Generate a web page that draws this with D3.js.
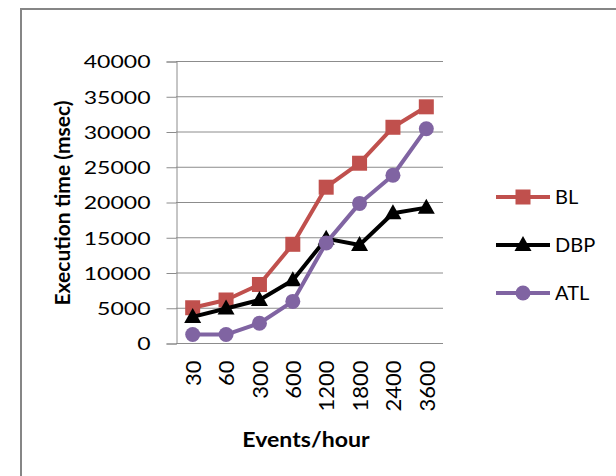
<!DOCTYPE html>
<html>
<head>
<meta charset="utf-8">
<script src="https://cdn.jsdelivr.net/npm/d3@7"></script>
<style>
html,body{margin:0;padding:0;background:#fff;}
svg{display:block;}
text{font-family:Lato,"Open Sans",sans-serif;fill:#000;}
</style>
</head>
<body>
<svg id="chart" width="616" height="476"></svg>
<script>
const categories = ["30","60","300","600","1200","1800","2400","3600"];
const BL  = [5000, 6100, 8300, 14000, 22100, 25500, 30600, 33500];
const DBP = [3700, 4900, 6100, 8900, 14800, 13900, 18400, 19200];
const ATL = [1200, 1200, 2800, 5900, 14200, 19800, 23800, 30400];
const yTicks = [0,5000,10000,15000,20000,25000,30000,35000,40000];
const seriesNames = ["BL","DBP","ATL"];
const seriesValues = [BL, DBP, ATL];
const seriesColors = ["#C0504D","#000000","#8064A2"];
const seriesMarkers = ["square","triangle","circle"];

const svg = d3.select("#chart");
// outer chart border
svg.append("path").attr("d","M21,476 L21,9 L616,9")
  .attr("fill","none").attr("stroke","#868686").attr("stroke-width",2);

const x = d3.scalePoint().domain(categories).range([176,443]).padding(0.5);
const y = d3.scaleLinear().domain([0,40000]).range([343,61]);

// gridlines
svg.append("g").selectAll("line").data(yTicks.filter(d=>d>0)).join("line")
  .attr("x1",176).attr("x2",443).attr("y1",d=>y(d)+0.5).attr("y2",d=>y(d)+0.5)
  .attr("stroke","#8c8c8c").attr("stroke-width",1);

// y axis
const yAxis = svg.append("g").attr("transform","translate(176.5,0.5)")
  .call(d3.axisLeft(y).tickValues(yTicks).tickSize(10).tickPadding(14).tickFormat(d3.format("d")));
yAxis.select(".domain").attr("stroke","#8c8c8c");
yAxis.selectAll(".tick line").attr("stroke","#8c8c8c");
yAxis.selectAll(".tick text").attr("font-size",18).attr("font-family","Lato")
  .attr("fill","#000").attr("x",0).attr("dy","0.35em")
  .attr("transform","translate(-26,0) scale(1.28,1)");

// x axis
const xAxis = svg.append("g").attr("transform","translate(0,343.5)")
  .call(d3.axisBottom(x).tickSize(0).tickSizeOuter(0));
xAxis.select(".domain").attr("stroke","#8c8c8c").attr("d","M176,0H443");
xAxis.selectAll(".tick text").attr("font-size",22).attr("font-family","Lato")
  .attr("fill","#000").attr("y",0).attr("dy","0.35em")
  .attr("text-anchor","end")
  .attr("transform","translate(0,17) rotate(-90)");

// axis titles
svg.append("text").attr("x",306).attr("y",447).attr("text-anchor","middle")
  .attr("font-size",21).attr("font-weight","bold").attr("transform","translate(306,0) scale(1.1,1) translate(-306,0)")
  .text("Events/hour");
svg.append("text").attr("text-anchor","middle").attr("font-size",21).attr("font-weight","bold")
  .attr("transform","translate(70,203) rotate(-90)")
  .text("Execution time (msec)");

// markers
function drawMarker(g, type, color){
  if(type==="square") g.append("rect").attr("x",-7.5).attr("y",-7.5).attr("width",15).attr("height",15).attr("fill",color);
  else if(type==="triangle") g.append("path").attr("d","M0,-9 L8.5,6 L-8.5,6 Z").attr("fill",color);
  else g.append("circle").attr("r",7.5).attr("fill",color);
}

const line = d3.line().x((d,i)=>x(categories[i])).y(d=>y(d));
seriesValues.forEach((vals,si)=>{
  const g = svg.append("g");
  g.append("path").datum(vals).attr("d",line).attr("fill","none")
    .attr("stroke",seriesColors[si]).attr("stroke-width",4).attr("stroke-linejoin","round");
  vals.forEach((v,i)=>{
    const m = g.append("g").attr("transform",`translate(${x(categories[i])},${y(v)})`);
    drawMarker(m, seriesMarkers[si], seriesColors[si]);
  });
});

// legend
const legend = svg.append("g");
seriesNames.forEach((n,i)=>{
  const ly = 197 + i*48;
  const lg = legend.append("g").attr("transform",`translate(0,${ly})`);
  lg.append("line").attr("x1",496).attr("x2",550).attr("y1",0).attr("y2",0)
    .attr("stroke",seriesColors[i]).attr("stroke-width",4);
  const m = lg.append("g").attr("transform","translate(523,0)");
  drawMarker(m, seriesMarkers[i], seriesColors[i]);
  lg.append("text").attr("x",555).attr("y",0).attr("dy","0.36em").attr("font-size",20)
    .text(n);
});
</script>
</body>
</html>
